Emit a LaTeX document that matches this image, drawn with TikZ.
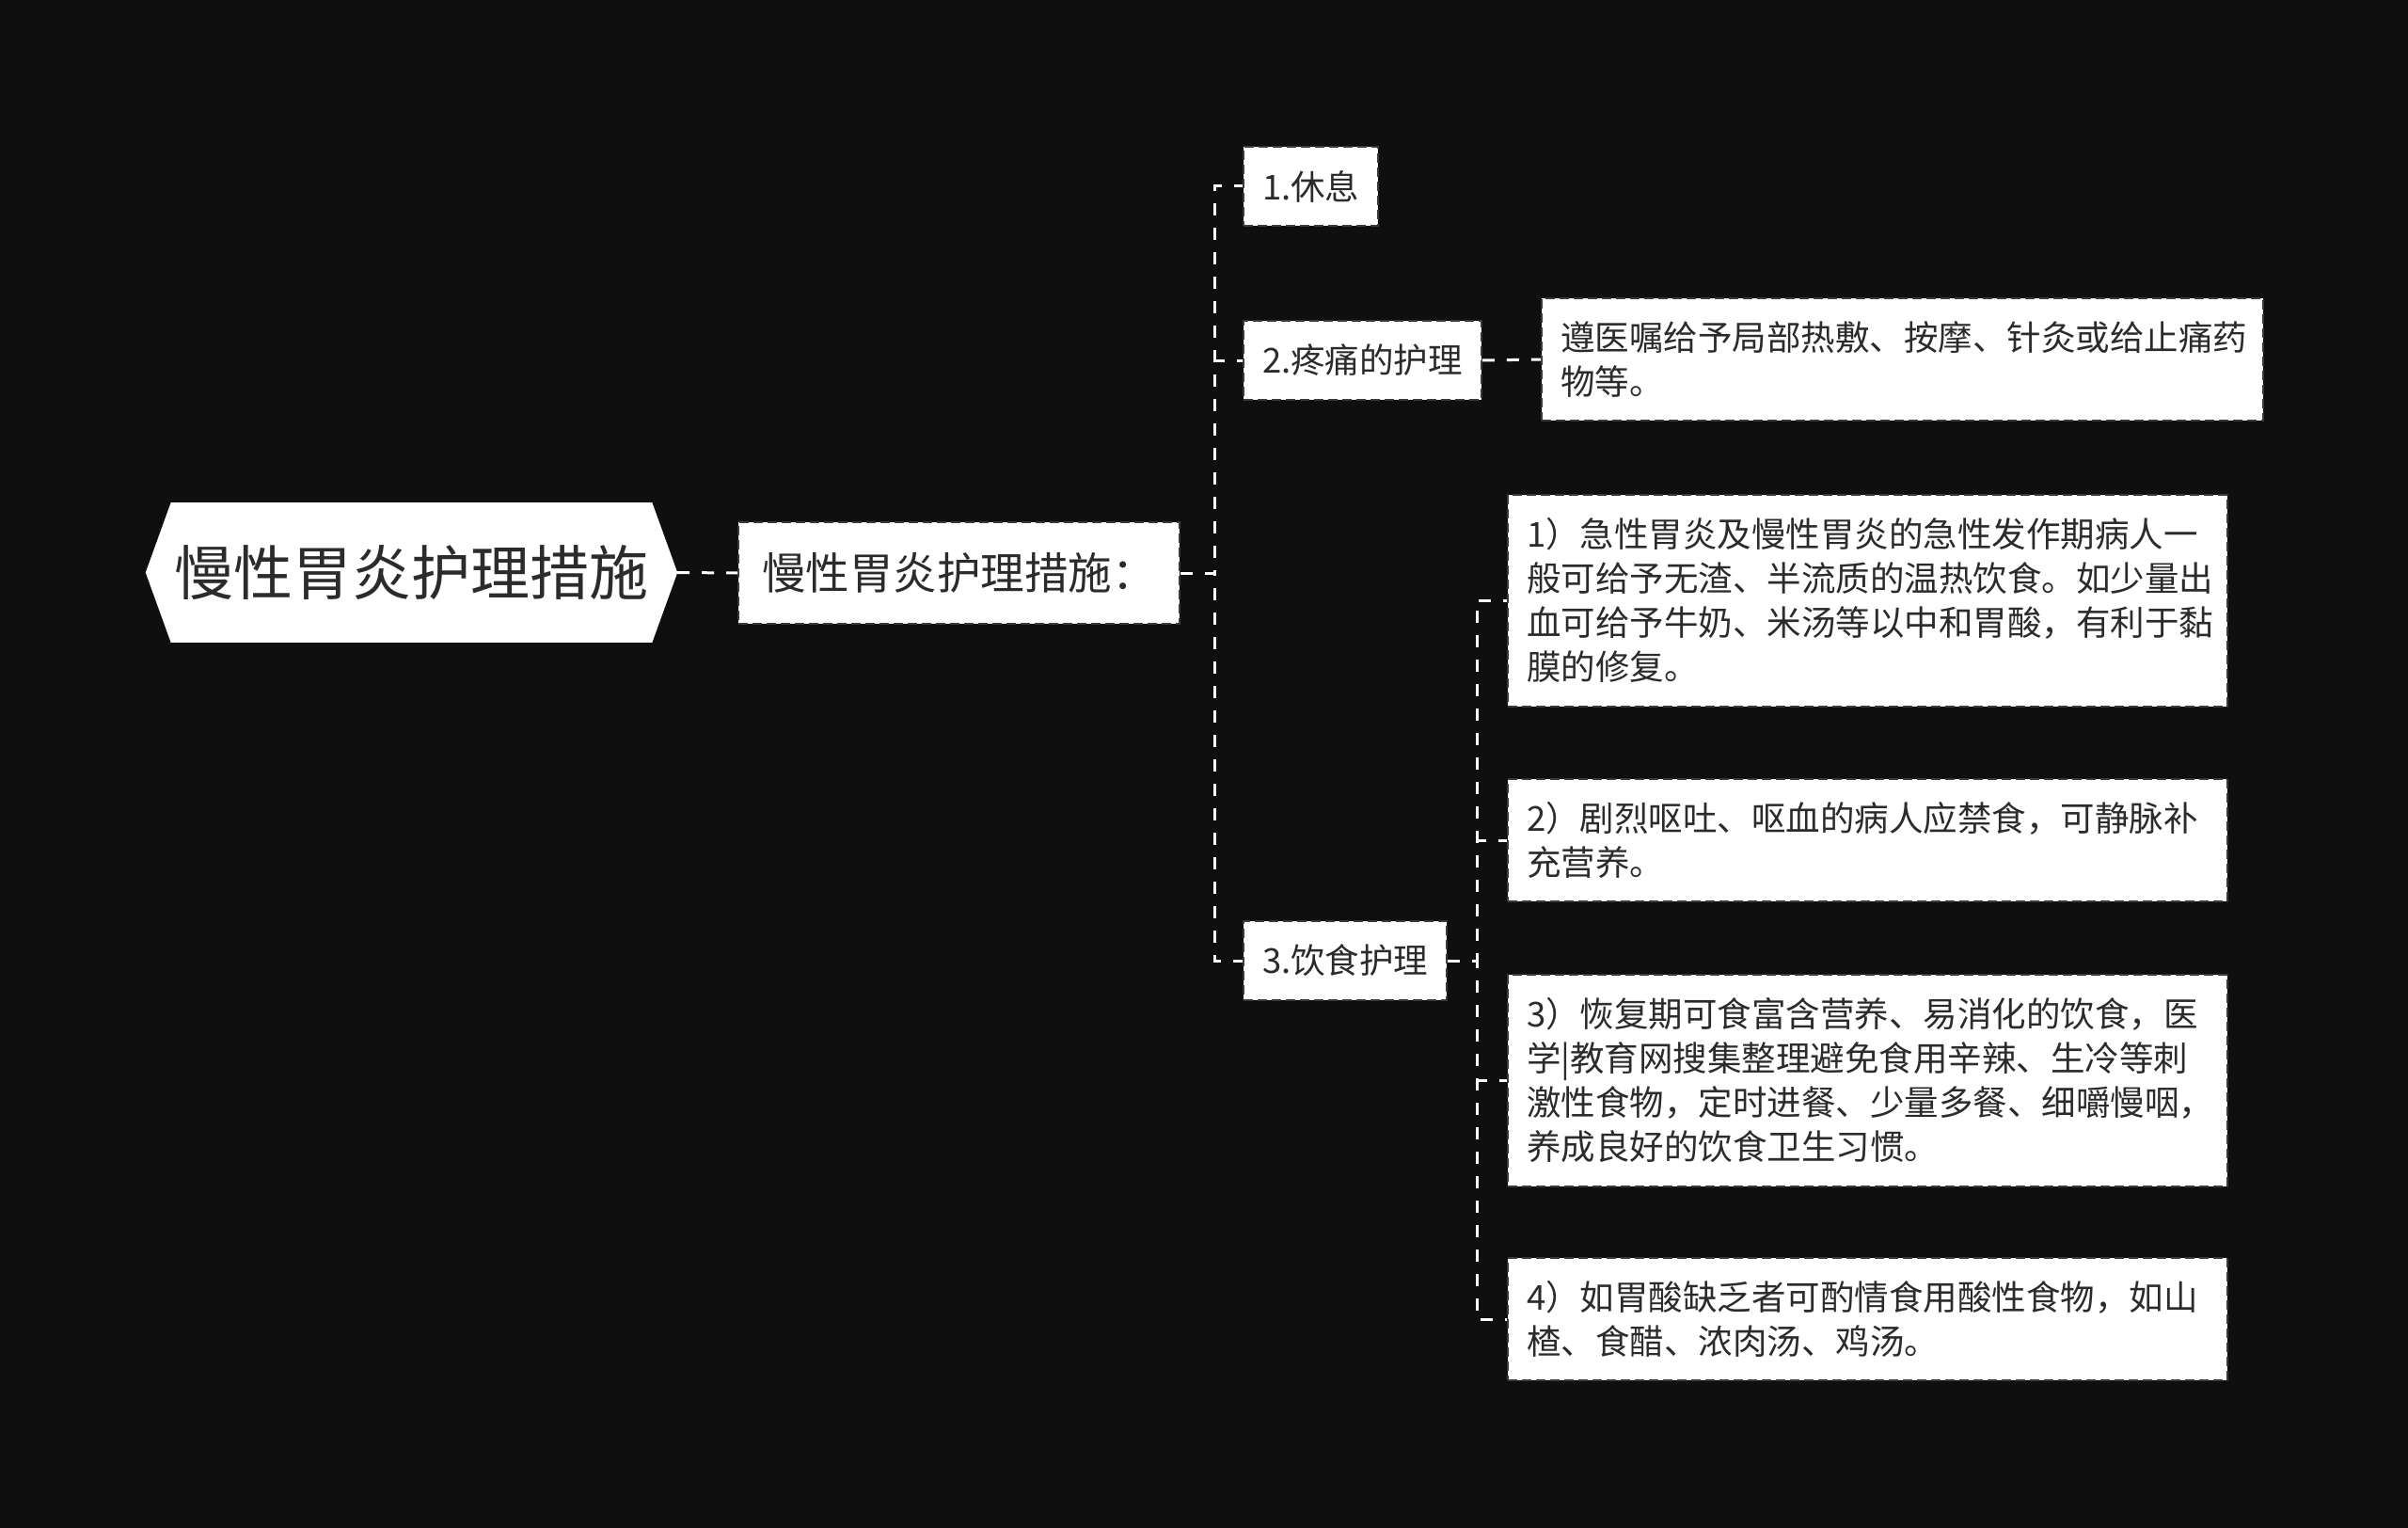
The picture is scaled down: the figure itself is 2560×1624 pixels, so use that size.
\documentclass[tikz,border=0pt]{standalone}
\usepackage{fontspec}
\newfontfamily\cjk{Noto Sans CJK SC}
\definecolor{bgdark}{HTML}{0F0F0F}
\definecolor{boxline}{HTML}{3A3A3A}
\definecolor{inktext}{HTML}{2B2B2B}
\tikzset{
  topicbox/.style={fill=white,draw=boxline,line width=2pt,dash pattern=on 10pt off 5pt,text=inktext,
    font=\cjk\fontsize{36.5}{47}\selectfont,inner xsep=20pt,inner ysep=0pt,minimum height=84pt,anchor=west},
  notebox/.style={topicbox,text width=725pt,align=left},
  link/.style={draw=white,line width=3pt,dash pattern=on 13pt off 13pt}
}
\begin{document}
\begin{tikzpicture}[x=1pt,y=-1pt,line join=miter]
	\useasboundingbox (0,0) rectangle (2560,1624);
	\fill[bgdark] (0,0) rectangle (2560,1624);
	
	\node[fill=white,text=inktext,inner sep=0pt,minimum width=511pt,minimum height=149pt,
	  font=\cjk\fontsize{63}{70}\selectfont] (root) at (437.5,608.5) {慢性胃炎护理措施};
	\fill[white] (root.north east) -- ([xshift=27pt]root.east) -- (root.south east) -- cycle;
	\fill[white] (root.north west) -- ([xshift=-27pt]root.west) -- (root.south west) -- cycle;
	
	\node[topicbox,anchor=center,minimum width=469pt,minimum height=108pt,
	  font=\cjk\fontsize{46.5}{52}\selectfont] (care) at (1019.5,609) {慢性胃炎护理措施：};
	
	\node[topicbox] (rest) at (1321,198) {1.休息};
	\node[topicbox] (pain) at (1321,383) {2.疼痛的护理};
	\node[topicbox] (diet) at (1321,1021) {3.饮食护理};
	
	\node[notebox,text width=727pt,minimum height=130pt] (painA) at (1638,382)
	  {遵医嘱给予局部热敷、按摩、针灸或给止痛药\\物等。};
	
	\node[notebox,minimum height=225pt] (dietA) at (1602,638)
	  {1）急性胃炎及慢性胃炎的急性发作期病人一\\般可给予无渣、半流质的温热饮食。如少量出\\血可给予牛奶、米汤等以中和胃酸，有利于黏\\膜的修复。};
	\node[notebox,minimum height=130pt] (dietB) at (1602,893)
	  {2）剧烈呕吐、呕血的病人应禁食，可静脉补\\充营养。};
	\node[notebox,minimum height=225pt] (dietC) at (1602,1148)
	  {3）恢复期可食富含营养、易消化的饮食，医\\学|教育网搜集整理避免食用辛辣、生冷等刺\\激性食物，定时进餐、少量多餐、细嚼慢咽，\\养成良好的饮食卫生习惯。};
	\node[notebox,minimum height=130pt] (dietD) at (1602,1402)
	  {4）如胃酸缺乏者可酌情食用酸性食物，如山\\楂、食醋、浓肉汤、鸡汤。};
	
	\draw[link] ([xshift=27pt]root.east) -- (care.west);
	\foreach \c in {rest,pain,diet}
	\draw[link] (care.east) -- ++(36,0) |- (\c.west);
	\draw[link] (pain.east) -- (painA.west);
	\foreach \c in {dietA,dietB,dietC,dietD}
	\draw[link] (diet.east) -- ++(31,0) |- (\c.west);
\end{tikzpicture}
\end{document}
